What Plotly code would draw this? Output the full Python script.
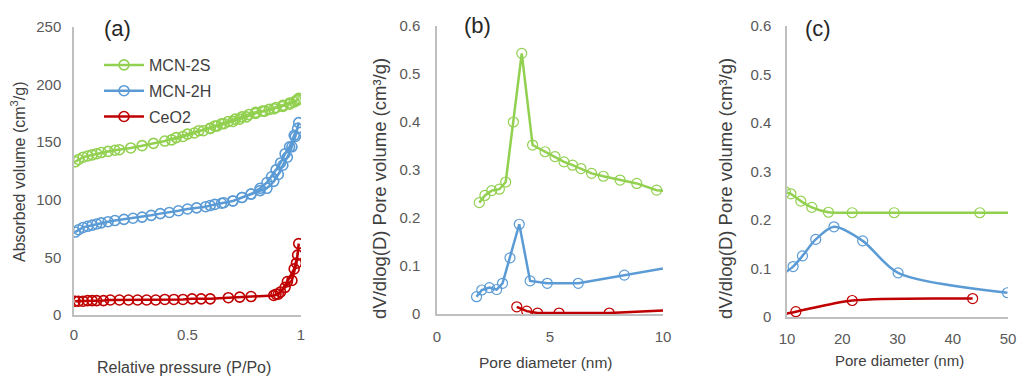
import plotly.graph_objects as go

W, H = 1018, 376

# ---------------- Panel (a): N2 isotherms ----------------
s2_x = [0.005, 0.02, 0.04, 0.06, 0.08, 0.10, 0.12, 0.15, 0.18, 0.20, 0.25, 0.30, 0.35, 0.40, 0.45,
        0.50, 0.55, 0.60, 0.63, 0.66, 0.70, 0.73, 0.76, 0.80, 0.84, 0.88, 0.92, 0.95, 0.97, 0.985, 0.99,
        0.98, 0.95, 0.92, 0.89, 0.86, 0.83, 0.80, 0.77, 0.74, 0.71, 0.68, 0.65, 0.62, 0.60, 0.57, 0.53,
        0.48, 0.43]
s2_y = [133, 135, 137, 138, 139, 140, 141, 142, 143, 143.5, 145, 147, 149, 151, 154,
        157, 160, 162, 164, 166, 168, 170, 172, 175, 177, 179, 181, 183, 185, 187, 188,
        186, 184, 182, 180, 178.5, 177, 176, 174, 172, 170, 168, 166, 164, 162, 160, 158,
        155, 152]

h2_x = [0.005, 0.02, 0.04, 0.06, 0.08, 0.10, 0.12, 0.15, 0.18, 0.22, 0.26, 0.30, 0.34, 0.38, 0.42,
        0.46, 0.50, 0.54, 0.58, 0.62, 0.66, 0.70, 0.74, 0.78, 0.82, 0.85, 0.88, 0.90, 0.92, 0.94,
        0.96, 0.975, 0.99,
        0.985, 0.97, 0.95, 0.93, 0.91, 0.89, 0.87, 0.85, 0.82, 0.78, 0.74, 0.70, 0.65, 0.60]
h2_y = [72, 74, 76, 77, 78, 79, 80, 81, 82, 83, 84, 85, 86.5, 88, 89,
        90.5, 92, 93, 94, 96, 97.5, 99, 102, 105, 108, 110, 116, 122, 130, 137,
        146, 155, 167,
        162, 156, 146, 140, 132, 126, 120, 115, 110, 105, 102, 99, 97, 95]

ce_x = [0.005, 0.02, 0.04, 0.06, 0.08, 0.10, 0.13, 0.16, 0.20, 0.24, 0.28, 0.32, 0.36, 0.40, 0.44,
        0.48, 0.52, 0.56, 0.60, 0.68, 0.73, 0.78, 0.88, 0.90, 0.93, 0.96, 0.98, 0.99,
        0.985, 0.97, 0.94, 0.91, 0.89]
ce_y = [12, 12, 12, 12.5, 12.5, 12.5, 12.5, 13, 13, 13, 13, 13, 13, 13.5, 13.5,
        13.5, 14, 14, 14, 15, 15.5, 16, 17, 18, 24, 30, 45, 62,
        52, 40, 29, 20, 18]

# ---------------- Panels (b) & (c): pore size distribution ----------------
ps_s_x = [1.87, 2.12, 2.42, 2.76, 3.04, 3.38, 3.75, 4.23, 4.78, 5.22, 5.62, 6.00, 6.37, 6.84, 7.36,
          8.10, 8.84, 9.72, 10.7, 12.5, 14.5, 17.5, 21.8, 29.4, 44.9, 52.0]
ps_s_y = [0.232, 0.247, 0.257, 0.260, 0.275, 0.400, 0.543, 0.352, 0.338, 0.328, 0.317, 0.310, 0.303,
          0.293, 0.287, 0.279, 0.272, 0.258, 0.254, 0.239, 0.226, 0.216, 0.215, 0.215, 0.215, 0.215]

ps_h_x = [1.75, 1.98, 2.32, 2.64, 2.90, 3.23, 3.64, 4.12, 4.88, 6.25, 8.29, 11.1, 12.8, 15.2, 18.5,
          23.7, 30.1, 49.9]
ps_h_y = [0.036, 0.050, 0.055, 0.051, 0.064, 0.117, 0.187, 0.069, 0.064, 0.064, 0.081, 0.104, 0.126,
          0.160, 0.186, 0.157, 0.091, 0.050]

ps_c_x = [3.53, 3.97, 4.45, 5.40, 7.62, 11.6, 21.8, 43.6]
ps_c_y = [0.015, 0.006, 0.002, 0.002, 0.002, 0.011, 0.034, 0.038]

names = ["MCN-2S", "MCN-2H", "CeO2"]
colors = ["#92D050", "#5B9BD5", "#C00000"]

iso = [(s2_x, s2_y), (h2_x, h2_y), (ce_x, ce_y)]
psd = [(ps_s_x, ps_s_y), (ps_h_x, ps_h_y), (ps_c_x, ps_c_y)]

fig = go.Figure()

for i, (xs, ys) in enumerate(iso):
    fig.add_trace(go.Scatter(
        x=xs, y=ys, mode="lines+markers", name=names[i], legendgroup=names[i],
        line=dict(color=colors[i], width=2.5),
        marker=dict(symbol="circle-open", size=10, color=colors[i], line=dict(width=1.6)),
        xaxis="x", yaxis="y"))

for i, (xs, ys) in enumerate(psd):
    fig.add_trace(go.Scatter(
        x=xs, y=ys, mode="lines+markers", name=names[i], showlegend=False,
        line=dict(color=colors[i], width=2.5),
        marker=dict(symbol="circle-open", size=10, color=colors[i], line=dict(width=1.2)),
        xaxis="x2", yaxis="y2"))

for i, (xs, ys) in enumerate(psd):
    fig.add_trace(go.Scatter(
        x=xs, y=ys, mode="lines+markers", name=names[i], showlegend=False,
        line=dict(color=colors[i], width=2.5, shape="spline", smoothing=0.8),
        marker=dict(symbol="circle-open", size=10, color=colors[i], line=dict(width=1.2)),
        xaxis="x3", yaxis="y3"))


def xd(a, b):
    return [a / W, b / W]


def yd(bottom, top):
    return [(H - bottom) / H, (H - top) / H]


FAM = "Liberation Sans, Arial, sans-serif"
tickfont = dict(family=FAM, size=15, color="#595959")
axis_common = dict(showgrid=False, zeroline=False, showline=True, linecolor="#BFBFBF", linewidth=1.5,
                   ticks="outside", tickcolor="rgba(0,0,0,0)", tickfont=tickfont, automargin=False)

fig.update_layout(
    template="none",
    width=W, height=H, margin=dict(l=0, r=0, t=0, b=0, pad=0),
    paper_bgcolor="white", plot_bgcolor="white",
    font=dict(family=FAM, color="#404040"),
    showlegend=True,
    legend=dict(x=99 / W, y=(H - 48) / H, xanchor="left", yanchor="top",
                bgcolor="rgba(0,0,0,0)", font=dict(size=16, color="#404040"),
                traceorder="grouped", tracegroupgap=2, itemwidth=40),
    xaxis=dict(domain=xd(74, 301), range=[0, 1], dtick=0.5, anchor="y", ticklen=5, **axis_common),
    yaxis=dict(domain=yd(315, 27), range=[0, 250], dtick=50, anchor="x", ticklen=8, **axis_common),
    xaxis2=dict(domain=xd(437, 663), range=[0, 10], dtick=5, anchor="y2", ticklen=8, **axis_common),
    yaxis2=dict(domain=yd(314, 26), range=[0, 0.6], dtick=0.1, anchor="x2", ticklen=12, **axis_common),
    xaxis3=dict(domain=xd(787, 1008), range=[10, 50], dtick=10, anchor="y3", ticklen=7, **axis_common),
    yaxis3=dict(domain=yd(317, 26), range=[0, 0.6], dtick=0.1, anchor="x3", ticklen=11, **axis_common),
)

label_font = dict(family=FAM, size=22, color="#262626")


def ann(text, px, py, size, angle=0):
    fig.add_annotation(text=text, x=px / W, y=(H - py) / H, xref="paper", yref="paper",
                       showarrow=False, xanchor="center", yanchor="middle",
                       font=dict(family=FAM, size=size, color="#404040"), textangle=angle)


ann("Relative pressure (P/Po)", 184, 367, 16)
ann("Pore diameter (nm)", 546, 362, 15.5)
ann("Pore diameter (nm)", 899, 360, 15)
ann("Absorbed volume (cm<sup>3</sup>/g)", 18, 172, 16, -90)
ann("dV/dlog(D) Pore volume (cm³/g)", 379, 189, 18.5, -90)
ann("dV/dlog(D) Pore volume (cm³/g)", 725, 189, 18.5, -90)
fig.add_annotation(text="(a)", x=117 / W, y=(H - 28) / H, xref="paper", yref="paper",
                   showarrow=False, xanchor="center", yanchor="middle", font=label_font)
fig.add_annotation(text="(b)", x=477 / W, y=(H - 25) / H, xref="paper", yref="paper",
                   showarrow=False, xanchor="center", yanchor="middle", font=label_font)
fig.add_annotation(text="(c)", x=818 / W, y=(H - 28) / H, xref="paper", yref="paper",
                   showarrow=False, xanchor="center", yanchor="middle", font=label_font)

fig.write_html("out.html")
